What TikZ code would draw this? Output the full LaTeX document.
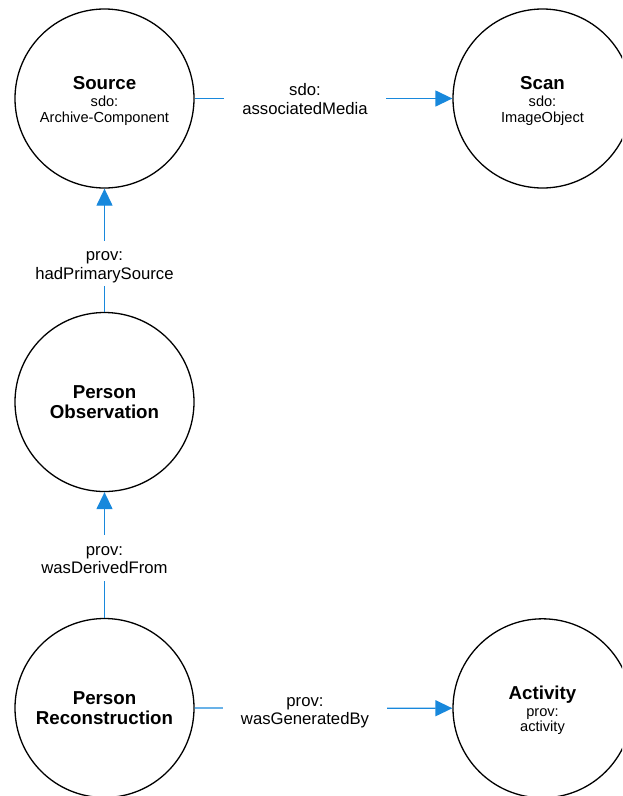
\documentclass[tikz,border=0pt]{standalone}
\usepackage{fontspec}
\setmainfont{Liberation Sans}
\usetikzlibrary{arrows.meta}
\definecolor{edgeblue}{RGB}{24,136,220}
\begin{document}
\begin{tikzpicture}[x=1pt,y=-1pt,
  ent/.style={circle,draw=black,line width=1.3pt,minimum size=179pt,inner sep=0pt,align=center,font=\fontsize{14.6}{15.5}\selectfont},
  pers/.style={circle,draw=black,line width=1.3pt,minimum size=179pt,inner sep=0pt,align=center,font=\fontsize{18.7}{20}\selectfont\bfseries},
  edge/.style={draw=edgeblue,line width=1.3pt,-{Triangle[length=17pt,width=16pt]}},
  elabel/.style={fill=white,inner xsep=18pt,inner ysep=0pt,align=center,font=\fontsize{16.7}{18.3}\selectfont}]
\useasboundingbox (0,0) rectangle (622,796);
\clip (0,0) rectangle (622,796);
\node[ent] (src) at (104.5,98.5) {\rule{0pt}{17.6pt}{\fontsize{18.7}{20}\selectfont\bfseries Source}\\[1.5pt]sdo:\\Archive-Component};
\node[ent] (scan) at (542.5,98.5) {\rule{0pt}{17.6pt}{\fontsize{18.7}{20}\selectfont\bfseries Scan}\\[1.5pt]sdo:\\ImageObject};
\node[pers] (po) at (104.5,402) {Person\\Observation};
\node[pers] (pr) at (104.5,708) {Person\\Reconstruction};
\node[ent] (act) at (542.5,708.3) {\rule{0pt}{17.6pt}{\fontsize{18.7}{20}\selectfont\bfseries Activity}\\[1.5pt]prov:\\activity};
\draw[edge] (src) -- (scan);
\draw[edge] (po) -- (src);
\draw[edge] (pr) -- (po);
\draw[edge] (pr) -- (act);
\node[elabel] (l1) at (305,98.5) {\rule{0pt}{20pt}sdo:\\associatedMedia\rule[-7pt]{0pt}{7pt}};
\node[elabel] (l2) at (104.5,263.5) {\rule{0pt}{20pt}prov:\\hadPrimarySource\rule[-7pt]{0pt}{7pt}};
\node[elabel] (l3) at (104.5,558) {\rule{0pt}{20pt}prov:\\wasDerivedFrom\rule[-7pt]{0pt}{7pt}};
\node[elabel] (l4) at (305,709.3) {\rule{0pt}{20pt}prov:\\wasGeneratedBy\rule[-7pt]{0pt}{7pt}};
\end{tikzpicture}
\end{document}
